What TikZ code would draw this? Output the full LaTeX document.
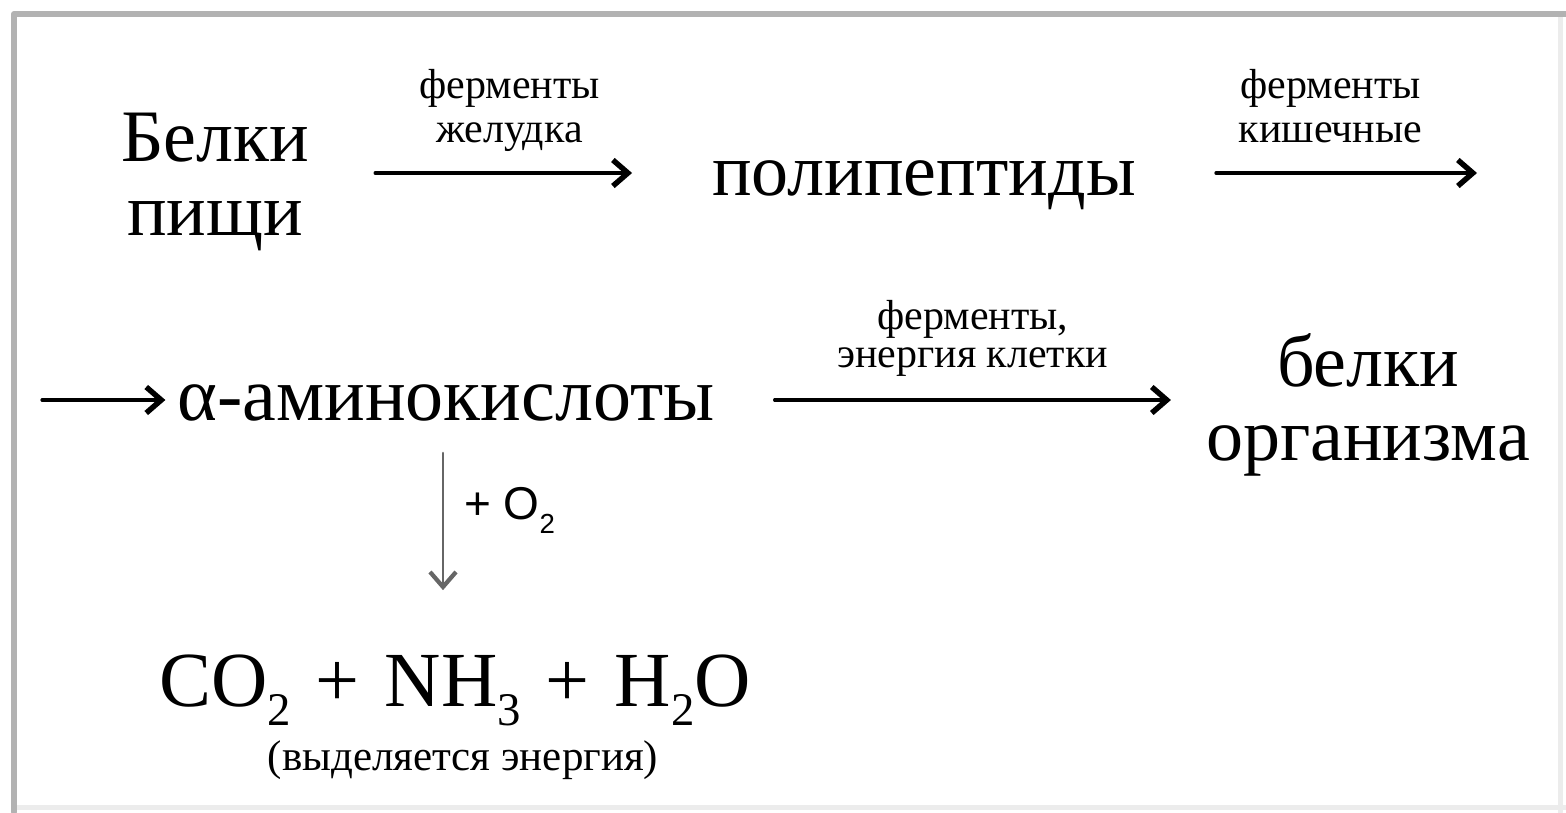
\documentclass[tikz,border=0pt]{standalone}
\usepackage{fontspec}
\setmainfont{Liberation Serif}
\newfontfamily\sansf{Liberation Sans}
\usetikzlibrary{arrows.meta,positioning}
\newcommand{\chsub}[1]{\raisebox{-0.55ex}{\scalebox{0.6}{#1}}}
\newcommand{\chplus}{\hspace{0.32em}+\hspace{0.32em}}
\begin{document}
\begin{tikzpicture}[x=1pt, y=-1pt, line join=round, line cap=round, >={Straight Barb[length=15pt,width=26pt,line width=0pt 1.7]}]
	\tikzset{every node/.style={inner sep=0pt, align=center},
		big/.style={font=\fontsize{74}{74}\selectfont},
		small/.style={font=\fontsize{42}{44}\selectfont},
		arr/.style={->, line width=3.2pt}}
	\useasboundingbox (0,0) rectangle (1566,812);
	% frame
	\draw[gray!15, line width=5pt] (1560,14)--(1560,812) (14,807)--(1566,807);
	\draw[gray!60, line width=6pt] (14,812)--(14,14)--(1566,14);
	% substances
	\node[big] (belki) at (215,182) {Белки\\пищи};
	\node[big, anchor=base] (polipept) at (924,195) {полипептиды};
	\node[big, anchor=base, font=\fontsize{76}{76}\selectfont] (amino) at (446,420) {α-аминокислоты};
	\node[big] (belkiorg) at (1368,405) {белки\\организма};
	\node[font=\fontsize{78}{78}\selectfont, anchor=base] (prod) at (455,706) {CO\chsub{2}\chplus NH\chsub{3}\chplus H\chsub{2}O};
	\node[font=\fontsize{43}{43}\selectfont] (energy) at (463,760) {(выделяется энергия)};
	\coordinate (outR) at (1477,173);
	\coordinate (inL) at (42,400);
	% arrows
	\draw[arr] ([xshift=66pt]belki.east |- outR) -- ([xshift=-80pt]polipept.west |- outR)
		node[small, midway, above=16pt, xshift=6pt] {ферменты\\желудка\strut};
	\draw[arr] ([xshift=80pt]polipept.east |- outR) -- (outR)
		node[small, midway, above=16pt, xshift=-16pt] {ферменты\\кишечные\strut};
	\draw[arr] (inL) -- ([xshift=-12pt]amino.west |- inL);
	\draw[arr] ([xshift=60pt]amino.east |- inL) -- ([xshift=-35pt]belkiorg.west |- inL)
		node[small, midway, above=22pt, font=\fontsize{42}{38}\selectfont] {ферменты,\\энергия клетки};
	\draw[arr, gray!80!black, line width=2.5pt] ([xshift=-3pt, yshift=-32pt]amino.south) -- ([xshift=-3pt, yshift=64pt]amino.south |- prod.north)
		node[pos=0.42, right=20pt, font=\sansf\fontsize{46}{46}\selectfont, text=black] {+ O\chsub{2}};
\end{tikzpicture}
\end{document}
